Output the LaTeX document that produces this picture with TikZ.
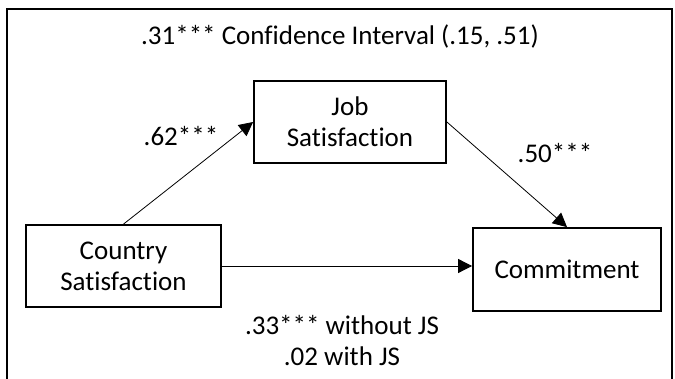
\documentclass[tikz,border=0pt]{standalone}
\usepackage{fontspec}
\setmainfont{Carlito}[Ligatures=NoCommon]
\usetikzlibrary{arrows.meta}

\begin{document}
\begin{tikzpicture}[x=1pt,y=-1pt,
  every node/.style={font=\fontsize{27}{31}\selectfont},
  box/.style={draw, line width=1.8pt, align=center, inner sep=0pt},
  arr/.style={-{Triangle[length=14pt,width=14pt]}, line width=0.8pt},
  lbl/.style={align=center, inner sep=0pt}]
  \useasboundingbox (0,0) rectangle (675,379);
  % frame, open at the bottom
  \draw[line width=1.2pt] (7,379) -- (7,9) -- (672,9) -- (672,379);
  \node[lbl] (ci) at (340,37) {.31*** Confidence Interval (.15, .51)};
  % the three boxes
  \node[box, minimum width=195pt, minimum height=82pt] (country) at (123.5,266) {Country\\Satisfaction};
  \node[box, minimum width=192pt, minimum height=82pt] (job) at (350,122) {Job\\Satisfaction};
  \node[box, minimum width=188pt, minimum height=83pt] (commit) at (567,269.5) {Commitment};
  % paths
  \draw[arr] (country.north) -- (job.west);
  \draw[arr] (job.east) -- (commit.north);
  \draw[arr] (country.east) -- (country.east -| commit.west);
  \node[lbl] (a) at (181,136) {.62***};
  \node[lbl] (b) at (555,153) {.50***};
  \node[lbl] (c) at (342,341) {.33*** without JS\\.02 with JS};
\end{tikzpicture}
\end{document}
